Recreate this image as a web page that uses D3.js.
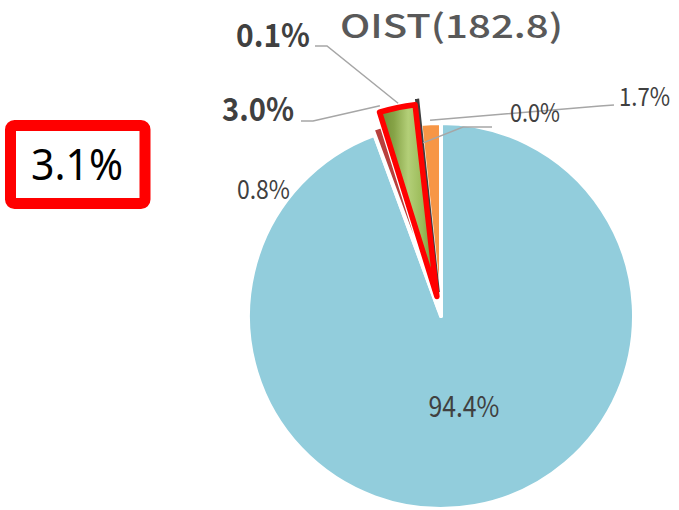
<!DOCTYPE html>
<html>
<head>
<meta charset="utf-8">
<script src="https://cdn.jsdelivr.net/npm/d3@7"></script>
<style>
  body { margin: 0; background: #fff; }
</style>
</head>
<body>
<div class="chart"></div>
<script>
// slice data, clockwise from 12 o'clock
var slices  = ["94.4%", "0.8%", "3.0%", "0.1%", "0.0%", "1.7%"];
var values  = [94.4, 0.8, 3.0, 0.1, 0.0, 1.7];
var colors  = ["#92CDDC", "#B8403D", "url(#greenFill)", "#3F3F3F", "#8064A2", "#F79646"];
var explode = [0, 6, 20, 24, 0, 0];
var title = "OIST(182.8)";
var total = "3.1%";

var width = 679, height = 510,
    cx = 441, cy = 316, radius = 193;

// label layout (pixels), leader end given as angle/radius around the pie centre
var labelLayout = {
  1: { x: 237, y: 199, size: 26, len: 53 },
  2: { x: 222, y: 121, size: 32, len: 72, bold: true, leader: [[301, 121], [313, 121]], at: [343.8, 219] },
  3: { x: 236, y: 47,  size: 32, len: 74, bold: true, leader: [[315, 46], [327, 46]], at: [348.6, 217] },
  4: { x: 510, y: 122, size: 25, len: 50, leader: [[492, 127], [463, 127]], at: [354.1, 174] },
  5: { x: 619, y: 106, size: 25, len: 51, leader: [[614, 105], [600, 106]], at: [356.8, 196] }
};

var svg = d3.select(".chart").append("svg")
            .attr("width", width)
            .attr("height", height);

var defs = svg.append("defs");
var grad = defs.append("linearGradient")
               .attr("id", "greenFill")
               .attr("x1", 0).attr("x2", 1).attr("y1", 0).attr("y2", 0);
[[0, "#6E8A33"], [0.25, "#86A347"], [0.5, "#B3CF78"], [0.75, "#9BBB59"], [1, "#6E8A33"]]
  .forEach(function(s) {
    grad.append("stop").attr("offset", s[0]).attr("stop-color", s[1]);
  });

var pie = d3.pie().sort(null).value(function(d) { return d; });
var arcs = pie(values);

var arc = d3.arc().innerRadius(0).outerRadius(radius);

function polar(a, r) {
  return [r * Math.sin(a), -r * Math.cos(a)];
}

var g = svg.append("g").attr("transform", "translate(" + cx + "," + cy + ")");

// draw order: blue, dark red, orange, dark sliver, then the highlighted green on top
var order = [0, 1, 5, 4, 3, 2];
order.forEach(function(i) {
  var d = arcs[i];
  if (d.endAngle - d.startAngle <= 0) return;
  var off = polar((d.startAngle + d.endAngle) / 2, explode[i]);
  var p = g.append("path")
           .attr("transform", "translate(" + off[0] + "," + off[1] + ")")
           .attr("d", arc(d))
           .attr("fill", colors[i]);
  if (i === 2) {
    p.attr("stroke", "#FF0000").attr("stroke-width", 5.5).attr("stroke-linejoin", "round");
  } else if (i === 3) {
    p.attr("stroke", colors[i]).attr("stroke-width", 3);
  } else {
    p.attr("stroke", "#fff").attr("stroke-width", 4).attr("stroke-linejoin", "round");
  }
});

// leader lines
Object.keys(labelLayout).forEach(function(k) {
  var L = labelLayout[k];
  if (!L.leader) return;
  var e = polar(L.at[0] * Math.PI / 180, L.at[1]);
  var pts = L.leader.concat([[cx + e[0], cy + e[1]]]);
  svg.append("path")
     .attr("d", d3.line()(pts))
     .attr("fill", "none")
     .attr("stroke", "#A6A6A6")
     .attr("stroke-width", 1.5);
});

// slice labels
Object.keys(labelLayout).forEach(function(k) {
  var L = labelLayout[k];
  svg.append("text")
     .attr("x", L.x)
     .attr("y", L.y)
     .attr("textLength", L.len)
     .attr("lengthAdjust", "spacingAndGlyphs")
     .style("font-family", "'Noto Sans CJK JP', 'Noto Sans', sans-serif")
     .style("font-size", L.size + "px")
     .style("font-weight", L.bold ? "bold" : "normal")
     .attr("fill", "#404040")
     .text(slices[k]);
});

// big slice label, inside
var c = d3.arc().innerRadius(0).outerRadius(radius).centroid(arcs[0]);
g.append("text")
   .attr("x", c[0] + 6)
   .attr("y", c[1] + 6)
   .attr("text-anchor", "middle")
   .attr("textLength", 71)
   .attr("lengthAdjust", "spacingAndGlyphs")
   .style("font-family", "'Noto Sans CJK JP', 'Noto Sans', sans-serif")
   .style("font-size", "29px")
   .attr("fill", "#404040")
   .text(slices[0]);

// title
svg.append("text")
   .attr("x", 340)
   .attr("y", 38)
   .attr("textLength", 223)
   .attr("lengthAdjust", "spacingAndGlyphs")
   .style("font-family", "'Noto Sans CJK JP', 'Noto Sans', sans-serif")
   .style("font-size", "32px")
   .style("font-weight", "500")
   .attr("fill", "#595959")
   .text(title);

// highlighted total box
svg.append("rect")
   .attr("x", 10.5).attr("y", 125.5)
   .attr("width", 134.5).attr("height", 78)
   .attr("rx", 4)
   .attr("fill", "#fff")
   .attr("stroke", "#FF0000")
   .attr("stroke-width", 11);

svg.append("text")
   .attr("x", 77)
   .attr("y", 180)
   .attr("text-anchor", "middle")
   .attr("textLength", 92)
   .attr("lengthAdjust", "spacingAndGlyphs")
   .style("font-family", "'Noto Sans', sans-serif")
   .style("font-size", "44px")
   .attr("fill", "#000")
   .text(total);
</script>
</body>
</html>
